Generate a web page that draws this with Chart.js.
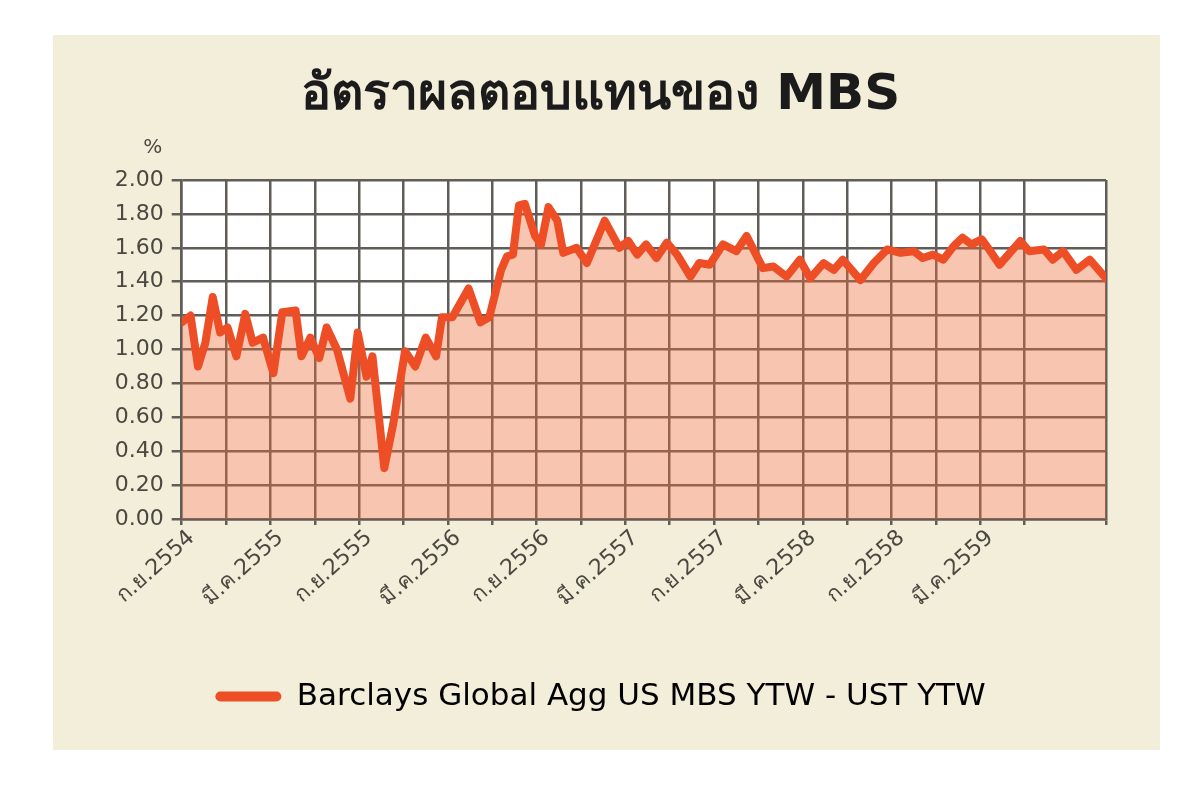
<!DOCTYPE html>
<html>
<head>
<meta charset="utf-8">
<title>MBS spread</title>
<script src="https://cdn.jsdelivr.net/npm/chart.js@4.4.1/dist/chart.umd.min.js"></script>
<style>
  html, body { margin: 0; padding: 0; background: #ffffff; }
  #wrap { width: 1200px; height: 800px; }
</style>
</head>
<body>
<div id="wrap"><canvas id="chart"></canvas></div>
<script>
/* --- data --- */
// months since ก.ย.2554
const months = [
  0.0, 0.6, 1.1, 1.6, 2.1, 2.6, 3.1, 3.7, 4.3, 4.8, 5.5, 6.2, 6.8, 7.7, 8.1, 8.7,
  9.3, 9.8, 10.5, 11.4, 11.9, 12.5, 12.9, 13.7, 14.3, 15.1, 15.8, 16.5, 17.2, 17.6,
  18.3, 19.4, 20.2, 20.8, 21.6, 22.0, 22.4, 22.8, 23.2, 23.9, 24.3, 24.8, 25.4, 25.8,
  26.7, 27.4, 28.6, 29.6, 30.2, 30.8, 31.4, 32.1, 32.8, 33.5, 34.4, 35.0, 35.7, 36.6,
  37.5, 38.2, 39.3, 40.0, 40.9, 41.8, 42.5, 43.4, 44.1, 44.7, 45.9, 46.8, 47.7, 48.6,
  49.5, 50.1, 50.8, 51.5, 52.2, 52.8, 53.4, 54.1, 54.6, 55.3, 56.0, 56.7, 57.3, 58.3,
  58.9, 59.6, 60.5, 61.4, 62.5
];
const spread = [
  1.16, 1.20, 0.90, 1.04, 1.31, 1.10, 1.13, 0.96, 1.21, 1.04, 1.07, 0.86, 1.22, 1.23, 0.96, 1.07,
  0.95, 1.13, 1.00, 0.71, 1.10, 0.84, 0.96, 0.30, 0.56, 0.99, 0.90, 1.07, 0.96, 1.19,
  1.19, 1.36, 1.16, 1.19, 1.47, 1.55, 1.56, 1.85, 1.86, 1.67, 1.62, 1.84, 1.76, 1.57,
  1.60, 1.51, 1.76, 1.60, 1.64, 1.56, 1.62, 1.54, 1.63, 1.56, 1.43, 1.51, 1.50, 1.62,
  1.58, 1.67, 1.48, 1.49, 1.43, 1.53, 1.42, 1.51, 1.47, 1.53, 1.41, 1.51, 1.59, 1.57,
  1.58, 1.54, 1.56, 1.53, 1.61, 1.66, 1.62, 1.65, 1.59, 1.50, 1.57, 1.64, 1.58, 1.59,
  1.53, 1.58, 1.47, 1.53, 1.42
];
// one label every 6 months
const monthLabels = [
  'ก.ย.2554', 'มี.ค.2555', 'ก.ย.2555', 'มี.ค.2556', 'ก.ย.2556',
  'มี.ค.2557', 'ก.ย.2557', 'มี.ค.2558', 'ก.ย.2558', 'มี.ค.2559'
];
const SERIES_NAME = 'Barclays Global Agg US MBS YTW - UST YTW';
const TITLE = 'อัตราผลตอบแทนของ MBS';

const COLORS = {
  panel: '#f2eeda',
  plotBg: '#ffffff',
  line: '#ee4e26',
  fill: 'rgba(238,110,60,0.40)',
  grid: '#605c58',
  text: '#4a4840',
  title: '#1b1b1b'
};
const FONT = "'DejaVu Sans', 'Noto Sans', sans-serif";

/* --- beige panel + white plot area --- */
const backdrop = {
  id: 'backdrop',
  beforeDraw(chart) {
    const { ctx, chartArea: a } = chart;
    ctx.save();
    ctx.fillStyle = COLORS.panel;
    ctx.fillRect(53, 35, 1107, 715);
    ctx.fillStyle = COLORS.plotBg;
    ctx.fillRect(a.left, a.top, a.right - a.left, a.bottom - a.top);
    ctx.restore();
  },
  afterDraw(chart) {
    // unit label above the y axis
    const { ctx, chartArea: a } = chart;
    ctx.save();
    ctx.fillStyle = COLORS.text;
    ctx.font = '20px ' + FONT;
    ctx.textAlign = 'center';
    ctx.textBaseline = 'middle';
    ctx.fillText('%', a.left - 29, a.top - 32);
    ctx.restore();
  }
};

const ctx = document.getElementById('chart');
new Chart(ctx, {
  type: 'line',
  data: {
    datasets: [{
      label: SERIES_NAME,
      data: months.map((m, i) => ({ x: m, y: spread[i] })),
      borderColor: COLORS.line,
      backgroundColor: COLORS.fill,
      borderWidth: 8,
      borderJoinStyle: 'round',
      borderCapStyle: 'round',
      fill: 'origin',
      tension: 0,
      pointRadius: 0
    }]
  },
  options: {
    responsive: true,
    maintainAspectRatio: false,
    animation: false,
    layout: { padding: { left: 95, right: 94, top: 56, bottom: 78 } },
    plugins: {
      title: {
        display: true,
        text: TITLE,
        color: COLORS.title,
        font: { family: FONT, size: 50, weight: 'bold' },
        padding: { top: 10, bottom: 54 }
      },
      legend: {
        position: 'bottom',
        labels: {
          color: '#3a3a36',
          font: { family: FONT, size: 31 },
          boxWidth: 66,
          boxHeight: 10,
          padding: 16,
          useBorderRadius: true,
          borderRadius: 5,
          generateLabels: () => [{
            text: SERIES_NAME,
            fillStyle: COLORS.line,
            strokeStyle: COLORS.line,
            lineWidth: 0,
            borderRadius: 5,
            datasetIndex: 0
          }]
        }
      },
      tooltip: { enabled: false }
    },
    scales: {
      x: {
        type: 'linear',
        min: 0,
        max: 62.5,
        afterFit: (scale) => { scale.height = 146; },
        grid: { color: COLORS.grid, lineWidth: 2.5, tickLength: 6 },
        border: { display: true, color: COLORS.grid, width: 2.5 },
        ticks: {
          stepSize: 3,
          autoSkip: false,
          minRotation: 42,
          maxRotation: 42,
          padding: 0,
          labelOffset: 10,
          color: COLORS.text,
          font: { family: FONT, size: 22 },
          callback: (v) => (v % 6 === 0 && monthLabels[v / 6]) ? monthLabels[v / 6] : ''
        }
      },
      y: {
        min: 0,
        max: 2,
        afterFit: (scale) => { scale.width = 86.7; },
        grid: { color: COLORS.grid, lineWidth: 2.5, tickLength: 10 },
        border: { display: true, color: COLORS.grid, width: 2.5 },
        ticks: {
          stepSize: 0.2,
          padding: 8,
          color: COLORS.text,
          font: { family: FONT, size: 22 },
          callback: (v) => v.toFixed(2)
        }
      }
    }
  },
  plugins: [backdrop]
});
</script>
</body>
</html>
